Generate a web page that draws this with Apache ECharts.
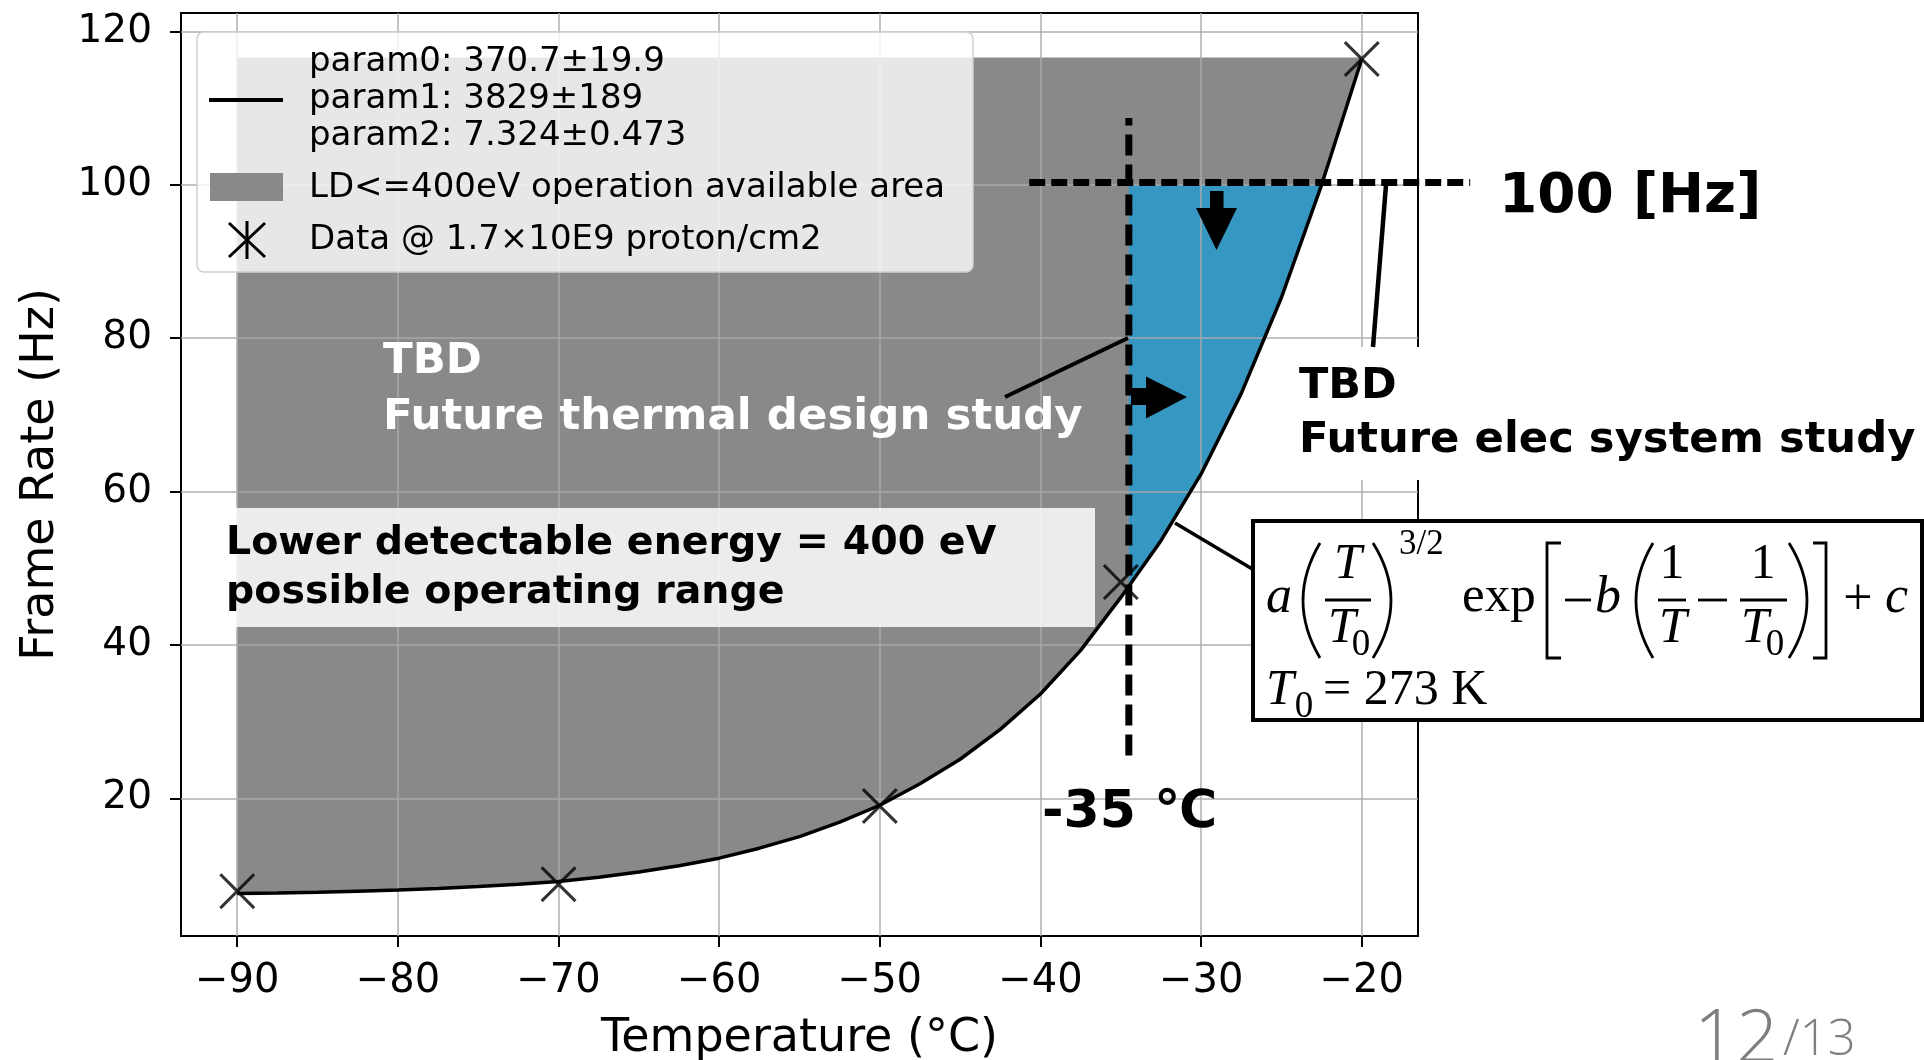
<!DOCTYPE html>
<html><head><meta charset="utf-8">
<script src="https://cdn.jsdelivr.net/npm/echarts@6/dist/echarts.min.js"></script>
<style>html,body{margin:0;padding:0;background:#fff;overflow:hidden}#c{width:1924px;height:1060px}</style>
</head><body><div id="c"></div>
<script>
// ---- data ----
const xTicks = [-90, -80, -70, -60, -50, -40, -30, -20];
const yTicks = [20, 40, 60, 80, 100, 120];
const dataTemp = [-90, -70, -50, -35, -20];
const dataRate = [7.9, 8.8, 19.0, 48.2, 116.4];
const fitTemp = [-90, -87.5, -85, -82.5, -80, -77.5, -75, -72.5, -70, -67.5, -65, -62.5, -60, -57.5, -55, -52.5, -50, -47.5, -45, -42.5, -40, -37.5, -35, -32.5, -30, -27.5, -25, -22.5, -20];
const fitRate = [7.6, 7.65, 7.75, 7.9, 8.05, 8.25, 8.5, 8.8, 9.15, 9.7, 10.4, 11.2, 12.2, 13.5, 15.0, 16.9, 19.1, 21.9, 25.1, 29.0, 33.6, 39.3, 46.2, 53.6, 62.3, 72.8, 85.3, 100.0, 116.4];
const areaTop = 116.6;
const blueTemp = [-34.5, -32.5, -30, -27.5, -25, -22.5];
const blueRate = [47.7, 53.6, 62.3, 72.8, 85.3, 100.0];
const blueTop = 100;
const vDashTemp = [-34.5, -34.5];
const vDashRate = [25.6, 108.7];
const hDashTemp = [-40.7, -13.25];
const hDashRate = [100.3, 100.3];
const legendParams = ['param0: 370.7±19.9', 'param1: 3829±189', 'param2: 7.324±0.473'];
const legendArea = 'LD<=400eV operation available area';
const legendData = 'Data @ 1.7×10E9 proton/cm2';

const X_MIN = -93.5, X_MAX = -16.5, Y_MIN = 2.05, Y_MAX = 122.4;
const GRAY = '#898989', BLUE = '#3597c2';
const SANS = 'DejaVu Sans', SERIF = 'Liberation Serif';

const chart = echarts.init(document.getElementById('c'), null, {renderer: 'canvas'});

function txt(text, x, y, o) {
  o = o || {};
  return {type: 'text', x: x, y: y, z: o.z || 110, silent: true,
    style: {text: text, fontSize: o.size || 40, fontFamily: o.family || SANS,
      fontWeight: o.weight || 'normal', fontStyle: o.italic ? 'italic' : 'normal',
      fill: o.color || '#000', align: o.align || 'left', verticalAlign: o.va || 'middle'}};
}
function ln(x1, y1, x2, y2, w, z) {
  return {type: 'line', z: z || 110, silent: true, shape: {x1, y1, x2, y2}, style: {stroke: '#000', lineWidth: w || 3}};
}
function paren(xEnd, xExt, yTop, yBot) {
  const cp = 2 * xExt - xEnd;
  return {type: 'bezierCurve', z: 112, silent: true,
    shape: {x1: xEnd, y1: yTop, x2: xEnd, y2: yBot, cpx1: cp, cpy1: (yTop + yBot) / 2},
    style: {stroke: '#000', lineWidth: 2.8, fill: null}};
}

const xShape = 'path://M0,0.6L0.6,0L5,4.4L9.4,0L10,0.6L5.6,5L10,9.4L9.4,10L5,5.6L0.6,10L0,9.4L4.4,5Z';

const graphics = [
  // legend box
  {type: 'rect', z: 100, silent: true, shape: {x: 197, y: 32, width: 776, height: 240, r: 7},
    style: {fill: 'rgba(255,255,255,0.8)', stroke: '#cfcfcf', lineWidth: 1.5}},
  ln(209, 100, 283, 100, 3.8, 105),
  {type: 'rect', z: 105, silent: true, shape: {x: 210, y: 173, width: 73, height: 28}, style: {fill: GRAY}},
  ln(229, 223, 265, 257, 3, 105), ln(265, 223, 229, 257, 3, 105), ln(247, 221, 247, 259, 3, 105),
  txt(legendParams[0], 309, 62, {size: 34}),
  txt(legendParams[1], 309, 99, {size: 34}),
  txt(legendParams[2], 309, 136, {size: 34}),
  txt(legendArea, 309, 188, {size: 34}),
  txt(legendData, 309, 240, {size: 34}),

  // lower detectable energy box
  {type: 'rect', z: 100, silent: true, shape: {x: 200, y: 508, width: 895, height: 119}, style: {fill: 'rgba(255,255,255,0.84)'}},
  txt('Lower detectable energy = 400 eV', 226, 544, {size: 39.5, weight: 'bold'}),
  txt('possible operating range', 226, 593, {size: 39.5, weight: 'bold'}),

  // thermal TBD
  txt('TBD', 383, 362, {size: 43.5, weight: 'bold', color: '#fff'}),
  txt('Future thermal design study', 383, 418, {size: 43.5, weight: 'bold', color: '#fff'}),
  ln(1005, 397, 1128, 338, 4),

  // arrows
  {type: 'rect', z: 110, silent: true, shape: {x: 1210, y: 191, width: 13.5, height: 19}, style: {fill: '#000'}},
  {type: 'polygon', z: 110, silent: true, shape: {points: [[1196, 208], [1237, 208], [1216.5, 250]]}, style: {fill: '#000'}},
  {type: 'rect', z: 110, silent: true, shape: {x: 1131, y: 388, width: 17, height: 17}, style: {fill: '#000'}},
  {type: 'polygon', z: 110, silent: true, shape: {points: [[1146, 376.5], [1146, 418.5], [1187, 397]]}, style: {fill: '#000'}},

  // 100 Hz
  txt('100 [Hz]', 1499, 198, {size: 55, weight: 'bold'}),
  ln(1386, 185, 1373, 347, 4.5),

  // elec TBD
  {type: 'rect', z: 100, silent: true, shape: {x: 1290, y: 347, width: 634, height: 133}, style: {fill: '#fff'}},
  txt('TBD', 1299, 387, {size: 43, weight: 'bold'}),
  txt('Future elec system study', 1299, 441, {size: 43.3, weight: 'bold'}),

  // -35 C
  txt('-35 ℃', 1042, 813, {size: 52, weight: 'bold'}),

  // formula box
  ln(1175, 523, 1254, 570, 3.5),
  {type: 'rect', z: 108, silent: true, shape: {x: 1253, y: 521, width: 669, height: 199}, style: {fill: '#fff', stroke: '#000', lineWidth: 4}},
  txt('a', 1266, 598, {family: SERIF, italic: true, size: 52, z: 112}),
  paren(1320, 1303, 543, 658),
  txt('T', 1348, 565, {family: SERIF, italic: true, size: 50, align: 'center', z: 112}),
  ln(1325, 600, 1371, 600, 2.8, 112),
  txt('T', 1342, 629, {family: SERIF, italic: true, size: 50, align: 'center', z: 112}),
  txt('0', 1361, 645, {family: SERIF, size: 37, align: 'center', z: 112}),
  paren(1373, 1391, 543, 658),
  txt('3/2', 1399, 545, {family: SERIF, size: 35, z: 112}),
  txt('exp', 1462, 598, {family: SERIF, size: 51, z: 112}),
  {type: 'polyline', z: 112, silent: true, shape: {points: [[1561, 543], [1547, 543], [1547, 658], [1561, 658]]}, style: {stroke: '#000', lineWidth: 2.8, fill: null}},
  ln(1565, 600, 1591, 600, 2.8, 112),
  txt('b', 1595, 598, {family: SERIF, italic: true, size: 52, z: 112}),
  paren(1653, 1636, 543, 658),
  txt('1', 1672, 565, {family: SERIF, size: 50, align: 'center', z: 112}),
  ln(1658, 600, 1686, 600, 2.8, 112),
  txt('T', 1673, 629, {family: SERIF, italic: true, size: 50, align: 'center', z: 112}),
  ln(1698, 600, 1727, 600, 2.8, 112),
  txt('1', 1763, 565, {family: SERIF, size: 50, align: 'center', z: 112}),
  ln(1740, 600, 1787, 600, 2.8, 112),
  txt('T', 1755, 629, {family: SERIF, italic: true, size: 50, align: 'center', z: 112}),
  txt('0', 1775, 645, {family: SERIF, size: 37, align: 'center', z: 112}),
  paren(1789, 1807, 543, 658),
  {type: 'polyline', z: 112, silent: true, shape: {points: [[1813, 543], [1826, 543], [1826, 658], [1813, 658]]}, style: {stroke: '#000', lineWidth: 2.8, fill: null}},
  txt('+', 1858, 600, {family: SERIF, size: 52, align: 'center', z: 112}),
  txt('c', 1885, 598, {family: SERIF, italic: true, size: 52, z: 112}),
  txt('T', 1266, 691, {family: SERIF, italic: true, size: 50, z: 112}),
  txt('0', 1304, 707, {family: SERIF, size: 37, align: 'center', z: 112}),
  txt('= 273 K', 1323, 691, {family: SERIF, size: 50, z: 112}),

  // page number
  txt('12', 1694, 1041, {family: 'Open Sans', weight: 300, size: 74, color: '#7f7f7f'}),
  txt('/13', 1783, 1041, {family: 'Open Sans', weight: 300, size: 49, color: '#7f7f7f'})
];

const minus = v => String(v).replace('-', '\u2212');

const option = {
  animation: false,
  backgroundColor: '#fff',
  grid: {left: 181, top: 13, width: 1237, height: 923, show: true, borderColor: '#000', borderWidth: 2,
    backgroundColor: 'transparent', containLabel: false, outerBoundsMode: 'none'},
  xAxis: {
    type: 'value', min: X_MIN, max: X_MAX, z: 3,
    name: 'Temperature (°C)', nameLocation: 'middle', nameGap: 80,
    nameTextStyle: {fontSize: 46, fontFamily: SANS, color: '#000'},
    axisLine: {show: false},
    axisTick: {show: true, length: 11, customValues: xTicks, lineStyle: {color: '#000', width: 2}},
    axisLabel: {customValues: xTicks, margin: 26, fontSize: 40, fontFamily: SANS, color: '#000', formatter: minus},
    splitLine: {show: true, showMinLine: true, showMaxLine: true, lineStyle: {color: 'rgba(169,169,169,0.7)', width: 2}}
  },
  yAxis: {
    type: 'value', min: Y_MIN, max: Y_MAX, z: 3,
    name: 'Frame Rate (Hz)', nameLocation: 'middle', nameGap: 117,
    nameTextStyle: {fontSize: 46, fontFamily: SANS, color: '#000'},
    axisLine: {show: false},
    axisTick: {show: true, length: 11, customValues: yTicks, lineStyle: {color: '#000', width: 2}},
    axisLabel: {customValues: yTicks, margin: 29, fontSize: 39, fontFamily: SANS, color: '#000', padding: [6, 0, 0, 0]},
    splitLine: {show: true, showMinLine: true, showMaxLine: true, lineStyle: {color: 'rgba(169,169,169,0.7)', width: 2}}
  },
  series: [
    {
      type: 'custom', name: 'area', z: 1, silent: true,
      data: [[fitTemp[0], areaTop]],
      renderItem: (params, api) => {
        const pts = fitTemp.map((t, i) => api.coord([t, fitRate[i]]));
        pts.push(api.coord([fitTemp[fitTemp.length - 1], areaTop]));
        pts.push(api.coord([fitTemp[0], areaTop]));
        return {type: 'polygon', shape: {points: pts}, style: {fill: GRAY}};
      }
    },
    {
      type: 'custom', name: 'blue', z: 1.5, silent: true,
      data: [[blueTemp[0], blueTop]],
      renderItem: (params, api) => {
        const pts = [api.coord([blueTemp[0], blueTop])];
        blueTemp.forEach((t, i) => pts.push(api.coord([t, blueRate[i]])));
        return {type: 'polygon', shape: {points: pts}, style: {fill: BLUE}};
      }
    },
    {
      type: 'line', name: 'fit', z: 5, silent: true, symbol: 'none',
      data: fitTemp.map((t, i) => [t, fitRate[i]]),
      lineStyle: {color: '#000', width: 3.5}
    },
    {
      type: 'scatter', name: 'data', z: 6, silent: true,
      symbol: xShape, symbolSize: 36,
      data: dataTemp.map((t, i) => [t, dataRate[i]]),
      itemStyle: {color: '#000'}
    },
    {
      type: 'line', name: 'vdash', z: 7, silent: true, symbol: 'none', clip: false,
      data: vDashTemp.map((t, i) => [t, vDashRate[i]]),
      lineStyle: {color: '#000', width: 7, type: [21, 9]}
    }
  ],
  graphic: graphics
};
chart.setOption(option);

// horizontal 100 Hz dashed line: extends past the axis, placed through the chart's own scales
const p0 = chart.convertToPixel({gridIndex: 0}, [hDashTemp[0], hDashRate[0]]);
const p1 = chart.convertToPixel({gridIndex: 0}, [hDashTemp[1], hDashRate[1]]);
graphics.push({type: 'line', z: 104, silent: true,
  shape: {x1: p0[0], y1: p0[1], x2: p1[0], y2: p1[1]},
  style: {stroke: '#000', lineWidth: 7, lineDash: [16, 6]}});
chart.setOption({graphic: graphics});
</script></body></html>
